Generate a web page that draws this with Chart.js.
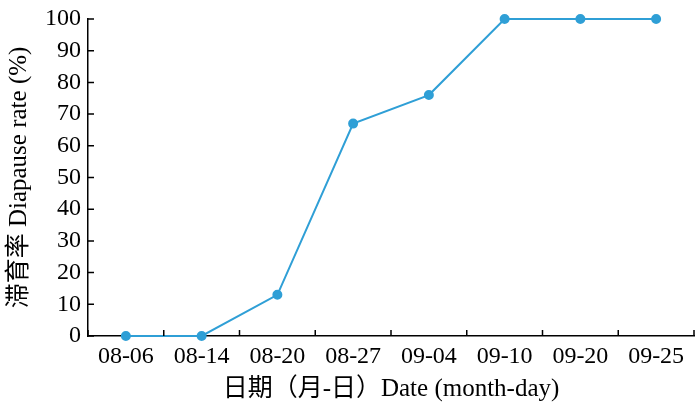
<!DOCTYPE html>
<html><head><meta charset="utf-8">
<script src="https://cdn.jsdelivr.net/npm/chart.js@4"></script>
<style>html,body{margin:0;padding:0;background:#fff}#wrap{width:700px;height:412px}</style>
</head><body><div id="wrap"><canvas id="c" width="700" height="412"></canvas></div>
<script>
const categories = ["08-06","08-14","08-20","08-27","09-04","09-10","09-20","09-25"];
const diapauseRate = [0, 0, 13, 67, 76, 100, 100, 100];
const yTicks = [0,10,20,30,40,50,60,70,80,90,100];
const xTitle = "日期（月-日）Date (month-day)";
const yTitle = "滞育率 Diapause rate (%)";

const FONT = '"Liberation Serif", "Noto Sans CJK SC", serif';

const inwardTicks = {
  id: 'inwardTicks',
  afterDraw(chart) {
    const ctx = chart.ctx, x = chart.scales.x, y = chart.scales.y;
    const ca = chart.chartArea;
    ctx.save();
    ctx.strokeStyle = '#000';
    ctx.lineWidth = 1.5;
    ctx.beginPath();
    yTicks.forEach(v => {
      const py = y.getPixelForValue(v);
      ctx.moveTo(ca.left, py); ctx.lineTo(ca.left + 6, py);
    });
    for (let i = 0; i <= categories.length; i++) {
      const px = i === 0 ? ca.left : (i === categories.length ? ca.right : (x.getPixelForValue(i - 1) + x.getPixelForValue(i)) / 2);
      ctx.moveTo(px, ca.bottom); ctx.lineTo(px, ca.bottom - 6);
    }
    ctx.stroke();
    ctx.restore();
  }
};

new Chart(document.getElementById('c'), {
  type: 'line',
  data: {
    labels: categories,
    datasets: [{
      data: diapauseRate,
      borderColor: '#2f9fd6',
      backgroundColor: '#2f9fd6',
      borderWidth: 2,
      pointRadius: 4,
      pointHoverRadius: 4,
      tension: 0,
      clip: false
    }]
  },
  options: {
    responsive: false,
    animation: false,
    events: [],
    layout: { padding: { top: 19, right: 6, left: 0, bottom: 0 } },
    plugins: { legend: { display: false }, tooltip: { enabled: false } },
    scales: {
      x: {
        type: 'category',
        offset: true,
        grid: { display: false, drawTicks: false },
        border: { display: true, color: '#000', width: 1.5 },
        ticks: { color: '#000', font: { family: FONT, size: 24 }, padding: 6, maxRotation: 0, autoSkip: false },
        title: { display: true, text: xTitle, color: '#000', font: { family: FONT, size: 25 }, padding: { top: 4, bottom: 8 } },
        afterFit(s) { s.height = 76; s.paddingLeft = 0; s.paddingRight = 0; }
      },
      y: {
        min: 0, max: 100,
        afterBuildTicks(s) { s.ticks = yTicks.map(v => ({ value: v })); },
        grid: { display: false, drawTicks: false },
        border: { display: true, color: '#000', width: 1.5 },
        ticks: { color: '#000', font: { family: FONT, size: 24 }, padding: 7, autoSkip: false },
        title: { display: true, text: yTitle, color: '#000', font: { family: FONT, size: 25 }, padding: { top: 4, bottom: 4 } },
        afterFit(s) { s.width = 88; s.paddingTop = 0; s.paddingBottom = 0; }
      }
    }
  },
  plugins: [inwardTicks]
});
</script>
</body></html>
